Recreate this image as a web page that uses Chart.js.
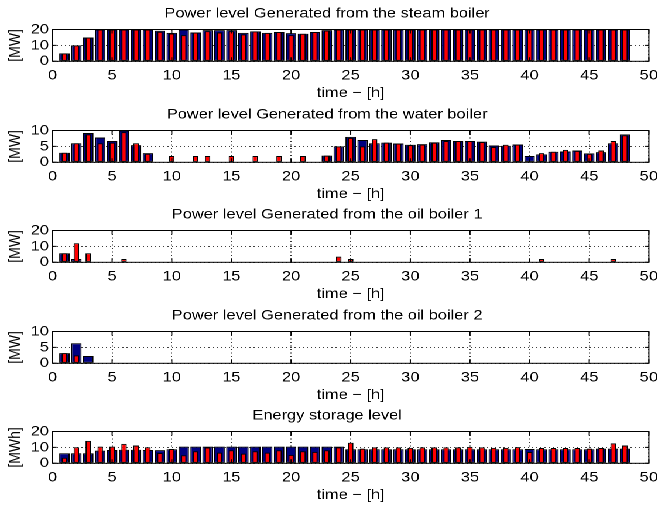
<!DOCTYPE html>
<html>
<head>
<meta charset="utf-8">
<script src="https://cdn.jsdelivr.net/npm/chart.js@4.4.0/dist/chart.umd.min.js"></script>
<style>
  body { margin: 0; background: #fff; overflow: hidden; }
  /* the original figure is stretched sideways, so the whole set is scaled on x */
  #wrap { position: absolute; left: 0; top: 0; width: 568px; height: 506px; transform: scaleX(1.1708); transform-origin: 0 0; }
  .panel { position: absolute; left: 0; width: 568px; height: 100px; }
</style>
</head>
<body>
<div id="wrap">
  <div class="panel" style="top:0px"><canvas id="c0"></canvas></div>
  <div class="panel" style="top:100.5px"><canvas id="c1"></canvas></div>
  <div class="panel" style="top:200.5px"><canvas id="c2"></canvas></div>
  <div class="panel" style="top:302px"><canvas id="c3"></canvas></div>
  <div class="panel" style="top:402px"><canvas id="c4"></canvas></div>
</div>
<script>
// hours of the day-ahead horizon
const hours = [1, 2, 3, 4, 5, 6, 7, 8, 9, 10, 11, 12, 13, 14, 15, 16, 17, 18, 19, 20, 21, 22, 23, 24,
               25, 26, 27, 28, 29, 30, 31, 32, 33, 34, 35, 36, 37, 38, 39, 40, 41, 42, 43, 44, 45, 46, 47, 48];
const xTicks = [0, 5, 10, 15, 20, 25, 30, 35, 40, 45, 50];
const yTicks20 = [0, 10, 20];
const yTicks10 = [0, 5, 10];

const titles = [
    'Power level Generated from the steam boiler',
    'Power level Generated from the water boiler',
    'Power level Generated from the oil boiler 1',
    'Power level Generated from the oil boiler 2',
    'Energy storage level'
];
const xLabel = 'time \u2212 [h]';

// blue = planned, red = realised
const steamPlan = [5, 10, 15, 20, 20, 20, 20, 20, 19.2, 17.9, 20, 18.1, 19.6, 19.6, 19.6, 17.9, 18.8, 17.9, 18.4, 17.7, 17.3, 18.4, 19.6, 20,
                   20, 20, 20, 20, 20, 20, 20, 20, 20, 20, 20, 20, 20, 20, 20, 20, 20, 20, 20, 20, 20, 20, 20, 20];
const steamReal = [5, 10, 15, 20, 20, 20, 20, 20, 18.6, 17.5, 16.5, 18.1, 19.0, 18.1, 19.0, 16.9, 18.8, 17.9, 18.4, 16.5, 17.3, 18.4, 19.4, 20,
                   20, 20, 20, 20, 20, 20, 20, 20, 20, 20, 20, 20, 20, 20, 20, 20, 20, 20, 20, 20, 20, 20, 20, 20];

const waterPlan = [3, 6, 9.2, 7.8, 6.7, 10, 5.4, 2.9, 0, 0, 0, 0, 0, 0, 0, 0, 0, 0, 0, 0, 0, 0, 2.1, 5,
                   8, 7, 6, 6.2, 5.9, 5.5, 5.7, 6.3, 7, 6.7, 6.7, 6.5, 5.3, 5.2, 5.6, 2, 2.5, 3.3, 3.4, 3.7, 2.8, 3.2, 6, 8.8];
const waterReal = [3, 6, 8.8, 6, 6.2, 9.5, 6, 2.7, 0, 2, 0, 2, 2, 0, 2, 0, 2, 0, 2, 0, 2, 0, 2.1, 5,
                   7.7, 5, 7.3, 6.2, 5.9, 5.4, 5.6, 6.2, 6.7, 6.7, 6.7, 6.4, 4.8, 5.5, 5.6, 0, 2.9, 3.3, 3.9, 3.6, 2.7, 3.7, 6.7, 8.5];

const oil1Plan = [5.7, 2.1, 0, 0, 0, 0, 0, 0, 0, 0, 0, 0, 0, 0, 0, 0, 0, 0, 0, 0, 0, 0, 0, 0,
                  0, 0, 0, 0, 0, 0, 0, 0, 0, 0, 0, 0, 0, 0, 0, 0, 0, 0, 0, 0, 0, 0, 0, 0];
const oil1Real = [5.7, 12, 5.7, 0, 0, 2.1, 0, 0, 0, 0, 0, 0, 0, 0, 0, 0, 0, 0, 0, 0, 0, 0, 0, 3.6,
                  2.1, 0, 0, 0, 0, 0, 0, 0, 0, 0, 0, 0, 0, 0, 0, 0, 2.1, 0, 0, 0, 0, 0, 2.1, 0];

const oil2Plan = [3.2, 6.3, 2.3, 0, 0, 0, 0, 0, 0, 0, 0, 0, 0, 0, 0, 0, 0, 0, 0, 0, 0, 0, 0, 0,
                  0, 0, 0, 0, 0, 0, 0, 0, 0, 0, 0, 0, 0, 0, 0, 0, 0, 0, 0, 0, 0, 0, 0, 0];
const oil2Real = [3.2, 2.5, 0, 0, 0, 0, 0, 0, 0, 0, 0, 0, 0, 0, 0, 0, 0, 0, 0, 0, 0, 0, 0, 0,
                  0, 0, 0, 0, 0, 0, 0, 0, 0, 0, 0, 0, 0, 0, 0, 0, 0, 0, 0, 0, 0, 0, 0, 0];

const storePlan = [6.3, 6.3, 6.3, 8, 8.4, 8.5, 8.5, 8.4, 8.3, 8.8, 10.5, 10.5, 10.5, 10.5, 10.5, 10.5, 10.5, 10.5, 10.5, 10.5, 10.5, 10.5, 10.5, 10.5,
                   8.8, 8.8, 8.8, 8.8, 8.8, 8.8, 8.8, 8.8, 8.8, 8.8, 8.8, 8.8, 8.8, 8.8, 8.8, 9, 8.8, 8.8, 8.8, 8.8, 8.8, 9.2, 9.2, 9.2];
const storeReal = [3.5, 10.1, 14.1, 10.5, 10.5, 12.2, 11.2, 10.1, 6.5, 9, 5.1, 7.6, 9.9, 6.7, 8.2, 6.1, 7.6, 6.7, 8.2, 5.3, 7.6, 7.2, 8.2, 10,
                   12.9, 9.2, 10, 10, 10, 9.7, 10, 10, 10, 10, 10.3, 10, 9.7, 9.7, 10.2, 7.1, 9.6, 9.6, 9.6, 9.6, 9.2, 9.6, 12.5, 11.2];

const panels = [
    { id: 'c0', title: titles[0], unit: '[MW]', yTicks: yTicks20, blue: steamPlan, red: steamReal },
    { id: 'c1', title: titles[1], unit: '[MW]', yTicks: yTicks10, blue: waterPlan, red: waterReal },
    { id: 'c2', title: titles[2], unit: '[MW]', yTicks: yTicks20, blue: oil1Plan, red: oil1Real },
    { id: 'c3', title: titles[3], unit: '[MW]', yTicks: yTicks10, blue: oil2Plan, red: oil2Real },
    { id: 'c4', title: titles[4], unit: '[MWh]', yTicks: yTicks20, blue: storePlan, red: storeReal }
];

Chart.defaults.font.family = "'Liberation Sans', Arial, Helvetica, sans-serif";
Chart.defaults.font.size = 14;
Chart.defaults.color = '#000';

// axes box and inward tick marks, matlab style
const boxPlugin = {
    id: 'box',
    afterDatasetsDraw(chart) {
        const { ctx, chartArea: a, scales: { x, y } } = chart;
        ctx.save();
        ctx.strokeStyle = '#000';
        ctx.lineWidth = 1;
        ctx.beginPath();
        x.ticks.forEach(t => {
            const px = x.getPixelForValue(t.value);
            ctx.moveTo(px, a.top); ctx.lineTo(px, a.top + 4);
            ctx.moveTo(px, a.bottom); ctx.lineTo(px, a.bottom - 4);
        });
        y.ticks.forEach(t => {
            const py = y.getPixelForValue(t.value);
            ctx.moveTo(a.left, py); ctx.lineTo(a.left + 3.5, py);
            ctx.moveTo(a.right, py); ctx.lineTo(a.right - 3.5, py);
        });
        ctx.stroke();
        ctx.strokeRect(a.left, a.top, a.right - a.left, a.bottom - a.top);
        ctx.restore();
    }
};

const toPoints = arr => hours.map((h, i) => ({ x: h, y: arr[i] }));

panels.forEach(p => {
    const yMax = p.yTicks[p.yTicks.length - 1];
    new Chart(document.getElementById(p.id), {
        type: 'bar',
        data: {
            datasets: [{
                data: toPoints(p.red),
                backgroundColor: '#ff0000',
                borderColor: '#000',
                borderWidth: 1,
                borderSkipped: false,
                grouped: false,
                barPercentage: 0.46,
                categoryPercentage: 1,
                order: 0
            }, {
                data: toPoints(p.blue),
                backgroundColor: '#000080',
                borderColor: '#000',
                borderWidth: 1,
                borderSkipped: false,
                grouped: false,
                barPercentage: 0.88,
                categoryPercentage: 1,
                order: 1
            }]
        },
        options: {
            responsive: true,
            maintainAspectRatio: false,
            animation: false,
            devicePixelRatio: 2,
            layout: { padding: { left: 0, right: 9.15, top: 0, bottom: 0 } },
            plugins: {
                legend: { display: false },
                tooltip: { enabled: false },
                title: {
                    display: true,
                    text: p.title,
                    font: { size: 14, weight: 'normal' },
                    padding: { top: 5, bottom: 7.7 }
                }
            },
            scales: {
                x: {
                    type: 'linear',
                    min: 0,
                    max: 50,
                    offset: false,
                    afterBuildTicks: s => { s.ticks = xTicks.map(v => ({ value: v })); },
                    afterFit: s => { s.height = 38.7; },
                    ticks: { padding: 6, maxRotation: 0, autoSkip: false },
                    grid: { offset: false, drawTicks: false, color: '#000', lineWidth: 0.8 },
                    border: { display: false, dash: [1, 2.5] },
                    title: { display: true, text: xLabel, font: { size: 14, lineHeight: 1 }, padding: { top: 0, bottom: 0 } }
                },
                y: {
                    min: 0,
                    max: yMax,
                    afterBuildTicks: s => { s.ticks = p.yTicks.map(v => ({ value: v })); },
                    afterFit: s => { s.width = 44.84; },
                    ticks: { padding: 3, autoSkip: false },
                    grid: { drawTicks: false, color: '#000', lineWidth: 0.8 },
                    border: { display: false, dash: [1, 2.5] },
                    title: { display: true, text: p.unit, font: { size: 14, lineHeight: 1 }, padding: { top: 6, bottom: 0 } }
                }
            }
        },
        plugins: [boxPlugin]
    });
});
</script>
</body>
</html>
